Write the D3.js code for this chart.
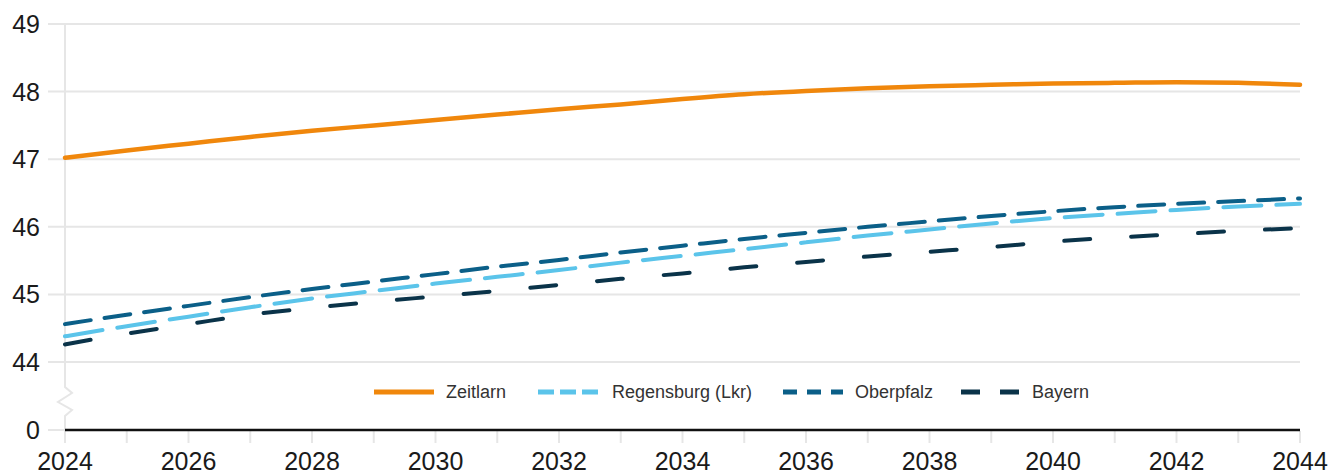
<!DOCTYPE html>
<html>
<head>
<meta charset="utf-8">
<script src="https://cdn.jsdelivr.net/npm/d3@7"></script>
<style>
  html, body { margin: 0; padding: 0; background: #fff; }
  svg { display: block; font-family: "Liberation Sans", Arial, sans-serif; }
</style>
</head>
<body>
<svg id="chart" width="1335" height="476"></svg>
<script>
const years = d3.range(2024, 2045);
const zeitlarn   = [47.02,47.13,47.23,47.33,47.42,47.50,47.58,47.66,47.74,47.81,47.89,47.96,48.01,48.05,48.08,48.10,48.12,48.13,48.14,48.13,48.10];
const regensburg = [44.38,44.53,44.67,44.81,44.94,45.05,45.16,45.26,45.36,45.47,45.57,45.67,45.77,45.87,45.96,46.05,46.13,46.19,46.25,46.30,46.34];
const oberpfalz  = [44.56,44.70,44.83,44.96,45.08,45.19,45.30,45.41,45.51,45.62,45.72,45.82,45.91,46.00,46.08,46.16,46.23,46.29,46.34,46.38,46.42];
const bayern     = [44.26,44.42,44.56,44.70,44.80,44.89,44.97,45.05,45.14,45.23,45.31,45.40,45.48,45.56,45.63,45.70,45.78,45.84,45.89,45.94,45.98];
const yTicks = [0, 44, 45, 46, 47, 48, 49];
const xTicks = d3.range(2024, 2045, 2);
const seriesNames = ["Zeitlarn", "Regensburg (Lkr)", "Oberpfalz", "Bayern"];

const series = [
  {name: seriesNames[0], values: zeitlarn,   color: "#f0870c", dash: null,     width: 4.5, legDash: null},
  {name: seriesNames[1], values: regensburg, color: "#5bc4ea", dash: "38 15",  width: 4,   legDash: "16 6"},
  {name: seriesNames[2], values: oberpfalz,  color: "#0b5f88", dash: "26 14",  width: 4,   legDash: "14 10"},
  {name: seriesNames[3], values: bayern,     color: "#0a3349", dash: "26 41",  width: 4,   legDash: "19 20"}
];

const svg = d3.select("#chart");
const x = d3.scaleLinear().domain([2024, 2044]).range([65, 1300]);
const y = d3.scaleLinear().domain([0, 44, 49]).range([430, 362, 24]);

// horizontal gridlines
svg.append("g").selectAll("line").data(yTicks).join("line")
  .attr("x1", 48).attr("x2", 1300)
  .attr("y1", d => y(d)).attr("y2", d => y(d))
  .attr("stroke", "#e6e6e6").attr("stroke-width", 2);

// left axis line with break
const leftPath = d3.path();
leftPath.moveTo(65, y(49));
leftPath.lineTo(65, 387);
leftPath.lineTo(72, 393);
leftPath.lineTo(58, 402);
leftPath.lineTo(72, 410);
leftPath.lineTo(65, 416);
leftPath.lineTo(65, 443);
svg.append("path").attr("d", leftPath.toString())
  .attr("fill", "none").attr("stroke", "#e6e6e6").attr("stroke-width", 2);

// x ticks (every year)
svg.append("g").selectAll("line").data(years).join("line")
  .attr("x1", d => x(d)).attr("x2", d => x(d))
  .attr("y1", 431).attr("y2", 443)
  .attr("stroke", "#e6e6e6").attr("stroke-width", 2);

// baseline
svg.append("line").attr("x1", x(2024)).attr("x2", x(2044))
  .attr("y1", y(0)).attr("y2", y(0))
  .attr("stroke", "#111").attr("stroke-width", 2.5);

// y labels
svg.append("g").selectAll("text").data(yTicks).join("text")
  .attr("x", 40).attr("y", d => y(d)).attr("dy", "0.36em")
  .attr("text-anchor", "end").attr("font-size", 25).attr("fill", "#1a1a1a")
  .text(d => d);

// x labels
svg.append("g").selectAll("text").data(xTicks).join("text")
  .attr("x", d => x(d)).attr("y", 470)
  .attr("text-anchor", "middle").attr("font-size", 25).attr("fill", "#1a1a1a")
  .text(d => d);

// lines
const line = d3.line().x((d, i) => x(years[i])).y(d => y(d)).curve(d3.curveMonotoneX);
series.slice().reverse().forEach(s => {
  svg.append("path").datum(s.values)
    .attr("d", line)
    .attr("fill", "none")
    .attr("stroke", s.color)
    .attr("stroke-width", s.width)
    .attr("stroke-linecap", "round")
    .attr("stroke-dasharray", s.dash);
});

// legend
const legX = [374, 538, 783, 961];
const legTextX = [446, 612, 855, 1032];
const legY = 392;
series.forEach((s, i) => {
  svg.append("line")
    .attr("x1", legX[i]).attr("x2", legX[i] + 60)
    .attr("y1", legY).attr("y2", legY)
    .attr("stroke", s.color).attr("stroke-width", 5)
    .attr("stroke-dasharray", s.legDash);
  svg.append("text")
    .attr("x", legTextX[i]).attr("y", legY).attr("dy", "0.35em")
    .attr("font-size", 18).attr("fill", "#333")
    .text(s.name);
});
</script>
</body>
</html>
